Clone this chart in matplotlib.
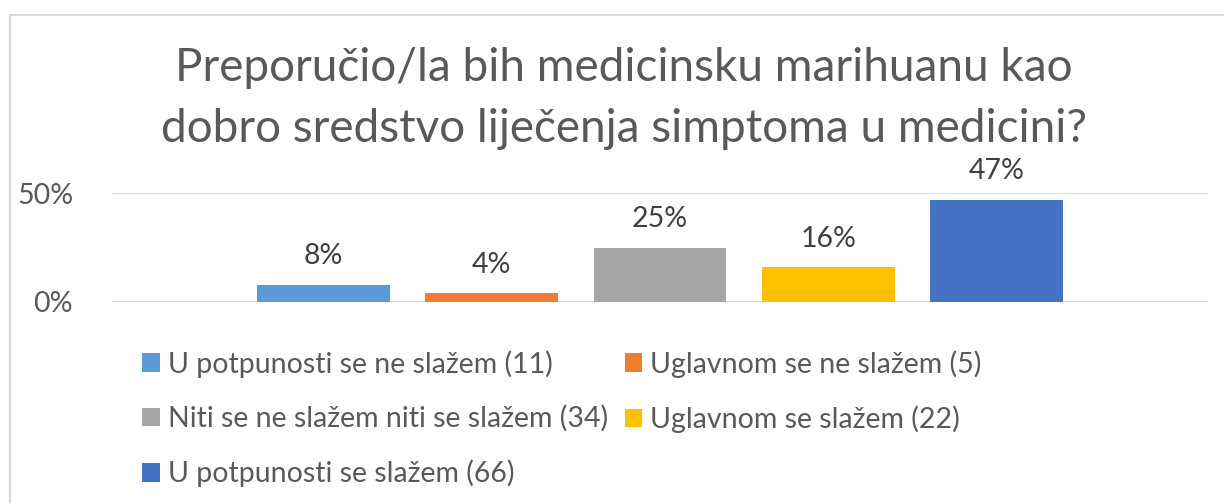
import matplotlib.pyplot as plt
from matplotlib.patches import Rectangle

labels = ['U potpunosti se ne slažem (11)', 'Uglavnom se ne slažem (5)',
          'Niti se ne slažem niti se slažem (34)', 'Uglavnom se slažem (22)',
          'U potpunosti se slažem (66)']
values = [0.08, 0.04, 0.25, 0.16, 0.47]
colors = ['#5B9BD5', '#ED7D31', '#A5A5A5', '#FFC000', '#4472C4']
title = 'Preporučio/la bih medicinsku marihuanu kao\ndobro sredstvo liječenja simptoma u medicini?'

txt = '#595959'
plt.rcParams['font.family'] = ['Lato', 'DejaVu Sans']

fig = plt.figure(figsize=(12.24, 5.03), dpi=100)
# chart frame (cropped on right and bottom)
fig.patches.append(Rectangle((10/1224, -0.1), 1.2, 1 - 15/503 + 0.1, transform=fig.transFigure,
                             fill=False, edgecolor='#D9D9D9', lw=1.5))

ax = fig.add_axes([112/1224, 1 - 302/503, (1208-112)/1224, 109/503])
bars = []
for i, (lab, v, c) in enumerate(zip(labels, values, colors)):
    b = ax.bar(i, v, width=0.79, color=c, label=lab, zorder=3)
    bars.append(b)
    ax.text(i, v + 0.07, f'{v:.0%}', ha='center', va='bottom', fontsize=20.5, color='#404040')

ax.set_xlim(-1.257, 5.257)
ax.set_ylim(0, 0.5)
ax.set_yticks([0, 0.5])
ax.set_yticklabels(['0%', '50%'], fontsize=20.5, color=txt)
ax.tick_params(axis='y', length=0, pad=28)
ax.set_xticks([])
ax.grid(axis='y', color='#D9D9D9', lw=1.5, zorder=0)
for s in ax.spines.values():
    s.set_visible(False)

fig.text(0.51, 1 - 47/503, title, ha='center', va='top', fontsize=33, color=txt, linespacing=1.55)

order = [0, 2, 4, 1, 3]
fig.legend([bars[i] for i in order], [labels[i] for i in order], ncol=2,
           loc='upper left', bbox_to_anchor=(142/1224, 1 - 350/503), frameon=False,
           borderpad=0, borderaxespad=0,
           fontsize=20.5, labelcolor=txt, handlelength=0.62, handleheight=0.62,
           handletextpad=0.28, labelspacing=0.97, columnspacing=0.6)

fig.savefig('out.png', dpi=100)
